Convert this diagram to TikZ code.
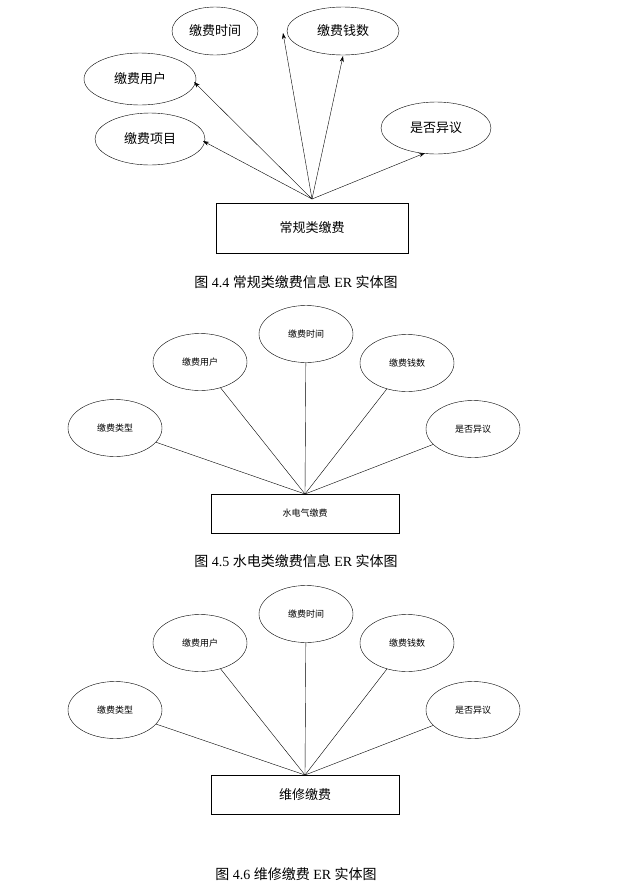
\documentclass[tikz,border=0pt]{standalone}
\usepackage{fontspec}
\setmainfont{Liberation Serif}
\newfontfamily\cjk{Noto Sans CJK SC}
\usetikzlibrary{shapes.geometric,arrows.meta}
\begin{document}
\begin{tikzpicture}[x=1pt,y=-1pt,
  attr/.style={draw,ellipse,inner sep=0pt,font=\cjk\fontsize{13}{13}\selectfont},
  sattr/.style={draw,ellipse,inner sep=0pt,minimum width=94pt,minimum height=57pt,font=\cjk\fontsize{9}{9}\selectfont},
  ent/.style={draw,rectangle,inner sep=0pt},
  arr/.style={-{Stealth[length=6pt,width=4pt]}},
  captxt/.style={font=\fontsize{14}{14}\selectfont}]
\useasboundingbox (0,0) rectangle (621,895);
% diagram 1
\node[attr,minimum width=86pt,minimum height=48pt] (a1) at (215,31) {缴费时间};
\node[attr,minimum width=112pt,minimum height=48pt] (a2) at (343,31) {缴费钱数};
\node[attr,minimum width=112pt,minimum height=52pt] (a3) at (140,79) {缴费用户};
\node[attr,minimum width=110pt,minimum height=52pt] (a4) at (436,128) {是否异议};
\node[attr,minimum width=110pt,minimum height=52pt] (a5) at (150,139) {缴费项目};
\node[ent,minimum width=192pt,minimum height=50pt,font=\cjk\fontsize{13}{13}\selectfont] (e1) at (312,228) {常规类缴费};
\coordinate (c1) at (312,199);
\coordinate (p1) at (283,33);
\coordinate (p2) at (343,56);
\coordinate (p3) at (194,82);
\coordinate (p4) at (425,153);
\coordinate (p5) at (203,141);
\foreach \t in {p1,p2,p3,p4,p5} \draw[arr] (c1) -- (\t);
\node[captxt] (t1) at (296,282) {{\cjk 图} 4.4 {\cjk 常规类缴费信息} ER {\cjk 实体图}};
% diagram 2
\node[sattr] (b1) at (115,428) {缴费类型};
\node[sattr] (b2) at (200,362) {缴费用户};
\node[sattr] (b3) at (306,334) {缴费时间};
\node[sattr] (b4) at (407,363) {缴费钱数};
\node[sattr] (b5) at (473,429) {是否异议};
\node[ent,minimum width=188pt,minimum height=39pt,font=\cjk\fontsize{9}{9}\selectfont] (e2) at (305,513.5) {水电气缴费};
\coordinate (c2) at (305,494);
\foreach \t in {b1,b2,b3,b4,b5} \draw (c2) -- (\t);
\node[captxt] (t2) at (296,561) {{\cjk 图} 4.5 {\cjk 水电类缴费信息} ER {\cjk 实体图}};
% diagram 3
\node[sattr] (d1) at (115,710) {缴费类型};
\node[sattr] (d2) at (200,643) {缴费用户};
\node[sattr] (d3) at (306,614) {缴费时间};
\node[sattr] (d4) at (407,643) {缴费钱数};
\node[sattr] (d5) at (473,710) {是否异议};
\node[ent,minimum width=188pt,minimum height=39pt,font=\cjk\fontsize{13}{13}\selectfont] (e3) at (305,794.5) {维修缴费};
\coordinate (c3) at (305,775);
\foreach \t in {d1,d2,d3,d4,d5} \draw (c3) -- (\t);
\node[captxt] (t3) at (296,874) {{\cjk 图} 4.6 {\cjk 维修缴费} ER {\cjk 实体图}};
\end{tikzpicture}
\end{document}
